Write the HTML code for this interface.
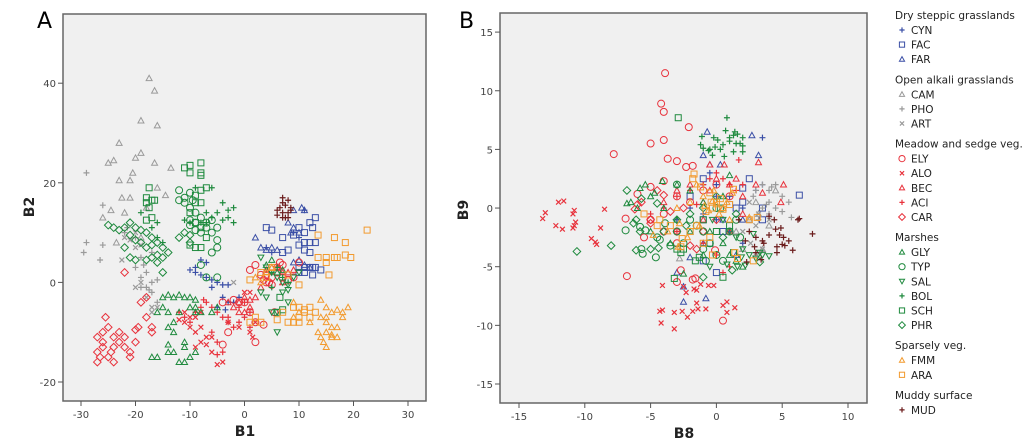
<!DOCTYPE html>
<html><head><meta charset="utf-8"><style>
html,body{margin:0;padding:0;background:#fff;}
svg{display:block;font-family:"DejaVu Sans","Liberation Sans",sans-serif;}
</style></head><body>
<svg id="svg" width="1024" height="445" viewBox="0 0 1024 445" xmlns="http://www.w3.org/2000/svg">
<text x="37" y="28" font-size="22">A</text>
<text x="459" y="28" font-size="22">B</text>
<g id="panelA"></g>
<g id="panelB"></g>
<g id="legend"></g>
</svg>
<script>
const NS="http://www.w3.org/2000/svg";
const seriesNames=["CYN","FAC","FAR","CAM","PHO","ART","ELY","ALO","BEC","ACI","CAR","GLY","TYP","SAL","BOL","SCH","PHR","FMM","ARA","MUD"];
const seriesShapes=["plus","square","tri","tri","plus","x","circle","x","tri","plus","diamond","tri","circle","itri","plus","square","diamond","tri","square","plus"];
const seriesColors=["#3b4fa6","#3b4fa6","#3b4fa6","#9a9a9a","#9a9a9a","#9a9a9a","#e8323c","#e8323c","#e8323c","#e8323c","#e8323c","#1f8a3e","#1f8a3e","#1f8a3e","#1f8a3e","#1f8a3e","#1f8a3e","#f29a2e","#f29a2e","#6b1c1c"];
const legendGroups=["Dry steppic grasslands","Open alkali grasslands","Meadow and sedge veg.","Marshes","Sparsely veg.","Muddy surface"];
const legendGroupSizes=[3,3,5,6,2,1];
const xTicksA=[-30,-20,-10,0,10,20,30];
const yTicksA=[-20,0,20,40];
const xTicksB=[-15,-10,-5,0,5,10];
const yTicksB=[-15,-10,-5,0,5,10,15];
const dataA={
CYN:[[-8,4.5],[-7,4],[-9,3],[-10,2.5],[-8,1.5],[-7,1],[-6,0.5],[-5,0],[-4,-0.5],[-3,-0.5],[-6,-1],[-4,-3],[-3,-4],[-2,-4],[-1,-3],[-5,-5],[-3.5,-5.5],[-9,2],[4,7],[5,6],[9,10],[10,9],[11,14.5]],
FAC:[[4,11],[5,10.5],[7,9],[9,9.5],[10,11],[11,10],[12,12],[13,13],[12.5,11],[10,7.5],[11,8],[12,8],[13,8],[11,6.5],[12,6],[10,3],[11,3],[12,3],[13,3],[12.5,1.5],[14,2.5],[7,6],[8,6.5],[10,2],[11,2],[12.5,3]],
FAR:[[2,9],[3,7],[4,6.5],[5,7],[6,6.5],[9,14.5],[10.5,15],[11,14.5],[8,12],[9,11],[10,10],[8.5,10],[11,3.5],[12,3],[9,4],[10,4.5]],
CAM:[[-17.5,41],[-16.5,38.5],[-19,32.5],[-16,31.5],[-23,28],[-19,26],[-25,24],[-24,24.5],[-20,25],[-16.5,24],[-13.5,23],[-20.5,22],[-23,20.5],[-21,20.5],[-22.5,17],[-21,17],[-16,19],[-14.5,17.5],[-26,13],[-24.5,14.5],[-18,15],[-22,14],[-23.5,8],[-19,9]],
PHO:[[-29,22],[-26,15.5],[-29,8],[-29.5,6],[-26,7.5],[-26.5,4.5],[-21.5,11],[-20,9],[-19,5],[-17,6],[-20,3],[-18,2],[-19,1],[-17,0],[-16,0.5],[-18,-1],[-17,-2],[-16,-4],[-17.5,-1.5],[-19,-1],[-18.5,3.5],[-22,10]],
ART:[[-22,9],[-21,8.5],[-20,7],[-22.5,4.5],[-19,0],[-20,-1],[-17,-5],[-16,-5],[-18,-3],[-17,-6],[-2,0],[-20,10],[-19,7.5]],
ELY:[[1,2.5],[2,3.5],[3,1.5],[3.5,0.5],[4,1.5],[4.5,0],[5,1],[6,2],[6.5,4],[7,3.5],[7,1],[8,0.5],[9,1],[10,4],[5,-0.5],[4,0],[2,-8],[3.5,-8.5],[-3,-10],[-4,-12.5],[2,-12],[-2,-3.5],[-1,-4],[0,-4],[5.5,-6],[1,-6],[-4,-4],[6,3]],
ALO:[[-11,-6],[-10,-7],[-9,-7],[-10,-9],[-8,-9],[-9,-10],[-7,-11],[-8,-12],[-6,-11],[-6,-14],[-5,-16.5],[-4,-16],[-9,-13],[-7,-12.5],[-11,-8],[-12,-7.5],[-8,-6],[1,-10],[1.5,-11],[2,-8],[-3,-8],[-1,-9],[0,-2],[1,-2]],
BEC:[[-1,-4],[0,-3],[1,-5],[2,-3],[-2,-5],[0,-6],[-1,-6],[1,-3.5],[6,3],[7,2],[4,2.5],[8,2],[9,2.5],[5,3],[3,-1],[7,0],[-3,-4]],
ACI:[[-12,-6],[-11,-7],[-10,-8],[-9,-6],[-8,-5],[-7,-4],[-7.5,-3.5],[-6,-5],[-5,-6],[-4,-7],[-3,-8],[-2,-9],[-1,-8],[0,-7],[1,-6],[-6,-10],[-5,-12],[-4,-14],[-5,-14.5],[-3,-7],[1,-9],[-1,-5],[0,-4]],
CAR:[[-27,-16],[-26.5,-15],[-27,-14],[-26,-13],[-27,-11],[-26,-10],[-25,-9],[-25.5,-7],[-24,-11],[-23,-12],[-22,-13],[-21,-14],[-24,-13],[-25,-15],[-24,-16],[-23,-10],[-22,-11],[-20,-9.5],[-20,-12],[-19.5,-9],[-17,-9],[-17,-10],[-18,-7],[-19,-4],[-18,-3],[-22,2],[-26,-12],[-24.5,-14],[-21,-15]],
GLY:[[-17,-15],[-16,-15],[-14,-14],[-13,-14],[-12,-16],[-11,-16],[-10,-15],[-9,-14],[-11,-13],[-11,-12],[-13,-10],[-14,-9],[-16,-6],[-15,-5],[-14,-6],[-13,-3],[-12,-2.5],[-11,-3],[-10,-3],[-9,-3.5],[-9,-6],[-10,-5],[-15,-3],[-14,-2.5],[-12,-6],[-13,-8],[-14,-12.5],[5,4.5],[6,2],[7,2.5],[4,3.5],[-8,-6],[-9,-5],[-5,-5],[-6,-6]],
TYP:[[-12,18.5],[-11,17],[-10,18],[-9.5,16.5],[-11,16],[-12,16.5],[-10,15],[-9,14],[-8,13],[-7,12],[-6,12.5],[-5,11],[-10,11.5],[-9,10.5],[-8,10],[-7,11],[-6,10],[-5,8.5],[-5,7],[-6,6],[-8,3.5],[-7,1],[-5,1],[-10,12.5],[-9,12]],
SAL:[[3,5],[4,3],[5,2],[6,1],[7,0],[8,-0.5],[8,-1.5],[7,-2],[4,-3],[5,-6],[6,-6],[6,-10],[8,-4],[3,-2],[9,1],[10,2]],
BOL:[[-9,19],[-6,19],[-4,16],[-3,14.5],[-2,15],[-5,14],[-6,13],[-7,14],[-8,12],[-11,12.5],[-10,12],[-4,12.5],[-3,13],[-2,12],[-7,12],[-16,12],[-17,11],[-19,14],[-16,9],[-15,8],[5,2],[6,3],[7,1],[8,0],[5,-1]],
SCH:[[-11,23],[-10,23.5],[-10,22],[-8,24],[-8,22],[-8,21.5],[-7,19],[-8,18.5],[-9,17.5],[-9,16],[-8,16],[-10,14],[-9,12],[-8,11],[-7,9],[-8,7],[-9,7],[-10,7.5],[-17.5,19],[-18,17],[-17,16.5],[-18,16],[-17.5,15],[-16.5,16.5],[-18,12.5],[-17,13],[6,-6],[7,-5.5],[6.5,-3]],
PHR:[[-25,11.5],[-24,11],[-23,10.5],[-22,11],[-21,12],[-20,11],[-19,10.5],[-18,10],[-17,9],[-16,8],[-15,7],[-14,6],[-15,5],[-16,4],[-17,5],[-18,7],[-19,8],[-20,8.5],[-22,7],[-21,5],[-20,4.5],[-18,4.5],[-15,2],[-12,9],[-11,10],[-10,9.5],[-10,8],[-17,7.5],[-16,5.5],[-21,9.5]],
FMM:[[14,-3.5],[15,-5],[16,-6],[17,-5.5],[18,-6],[19,-5],[14,-7],[15,-8],[16,-9],[17,-9],[15,-10],[14,-11],[14.5,-12],[16,-11],[15,-13],[17,-11],[16,-10.5],[13.5,-10],[12,-8],[15,-7],[18,-7],[9,-4],[10,-6],[9,-7],[2,1],[3,0],[5,3],[4,2]],
ARA:[[22.5,10.5],[19.5,5],[18.5,8],[18.5,5.5],[16.5,9],[16.5,5],[17,5],[15,5],[15,4],[13.5,9.5],[13.5,5],[15.5,1.5],[10,-0.5],[1,0.5],[3,2],[4,1],[5,3],[8,1.5],[12,-5],[13,-6],[11,-6],[10,-7],[9,-8],[8,-8],[10,-8],[12,-7],[7,-6],[6,-7.5],[2,-7],[3,-8],[1,-8],[9,-5],[10,-5],[11,-5.5]],
MUD:[[7,17],[8,16.5],[7.5,15.5],[6.5,15],[8.5,15],[7,14],[8,14],[6,13.5],[7.5,13],[8.5,14.5],[7,16],[6,14.5],[8,13],[7,13]]
};
const dataB={
CYN:[[-0.5,3],[0,2],[1,1],[2,0],[3,1.5],[3.5,2],[0,-1],[-1,-0.5],[-2,0],[1,-2],[3.5,6],[2,-3],[-3,-1],[0,1],[-1,2]],
FAC:[[2.5,2.5],[2,1.7],[6.3,1.1],[3.5,0],[2,0.5],[1,0.3],[-1,-1],[-0.5,-3],[-1,-4.5],[0,-5.5],[3.5,-1],[1.5,0],[-2,1],[-1,2.5],[0.5,-2]],
FAR:[[-0.7,6.5],[2.7,6.2],[3.2,4.5],[-1,4.5],[0.3,3.7],[-0.5,3.7],[-2.5,-6.7],[-2.5,-8],[-0.8,-7.7],[-2,-4.2],[-1,-3],[1.5,-4],[2,-1],[-3,-5.5],[0.5,-1]],
CAM:[[3,0.5],[4.5,1.5],[-2.8,-4.3],[2,-3.5],[3.5,-3.5],[3,-4],[2.5,-1],[3.2,-0.5],[1.5,-2],[4,-1.5]],
PHO:[[3,1.5],[3.5,2],[4,1.5],[4.5,2],[5,1],[4,0.5],[3.5,0],[4.5,0],[5.5,0.5],[4,-0.5],[3.2,-1],[5,-0.3],[5.7,-0.8],[2.8,1],[4.2,1.8],[3.8,0.3]],
ART:[[3.5,-3.5],[3.2,-0.5],[2.6,-3],[2,-2],[4,-1],[3,-1.5],[2.5,0.5]],
ELY:[[-3.9,11.5],[-4.2,8.9],[-4,8.2],[-2.1,6.9],[-5,5.5],[-4,5.8],[-7.8,4.6],[-3.7,4.2],[-3,4],[-2.3,3.5],[-1.8,3.6],[-4,2.3],[-6,1.2],[-5,1.8],[-3,1],[-2,0.5],[-5,-1],[-6.8,-5.8],[-2.7,-5.3],[-3,-6.3],[-1.6,-6],[-1.8,-6.1],[0.5,-9.6],[-0.1,-3.6],[-5.5,-2.5],[-4,-0.5],[1,1],[0,2],[-1,1.5],[-6.9,-0.9],[-3,-3],[-4,-2]],
ALO:[[-13.2,-0.9],[-13,-0.4],[-12,0.5],[-11.6,0.6],[-12.2,-1.5],[-11.7,-1.8],[-10.9,-0.5],[-10.8,-0.2],[-10.7,-1.2],[-10.8,-1.5],[-10.9,-1.7],[-9.5,-2.6],[-9.2,-2.9],[-9.1,-3.1],[-8.8,-1.7],[-8.5,-0.1],[-4.1,-6.6],[-4.1,-8.7],[-4.3,-8.8],[-4.2,-9.8],[-3.2,-8.9],[-3.2,-10.3],[-2.6,-8.8],[-2.2,-9.3],[-1.8,-8.8],[-1.5,-8.1],[-1.4,-8.6],[-1.2,-6.5],[-0.8,-8.6],[-0.6,-6.6],[-0.2,-6.6],[0.5,-8.3],[0.8,-8],[0.8,-8.9],[1.4,-8.5],[-1.5,-7],[-2.3,-7.2],[-2.5,-6.7],[-1.7,-6.9]],
BEC:[[-0.5,3.7],[0.6,3.7],[3.2,3.9],[5.1,2],[4.9,0.5],[3,2],[1.5,2.5],[2,1],[1,2],[0,2.5],[-0.5,1.5],[-1,0.5],[0.5,0],[-2,2],[-3,1.5],[-4,0.5],[2,-0.5],[1,-2],[-1,-1],[3.5,1.3]],
ACI:[[1.7,4.1],[0,3],[0.5,2.5],[1,2],[1.5,1.5],[2,2],[-1,2],[-2,1.5],[-3,1],[-4,0],[-5,-0.5],[-3,-2],[-1,-3],[0,-4],[1,-5],[0.5,-5.5],[-0.5,2.5],[-1.5,0.3]],
CAR:[[-6,0.3],[-5.7,0.5],[-5,-1],[-5,-1.3],[-4,1.1],[-3,-2],[-2,-3.2],[-1.5,-3.5],[-3.5,-0.3],[-1,-2],[0,-1],[-2.5,0],[-6.2,-0.1],[-4.5,1.5]],
GLY:[[-4.1,2.3],[-5.4,2],[-5.8,1.7],[-6.5,0.5],[-6.8,0.4],[-6,0],[-5,1],[-3,2],[-2,1.5],[-1,0.5],[-0.5,-2],[0.5,-3],[1,-4],[1.5,-4.5],[2,-5],[-1,-4],[-2,-2],[-3,-1],[0.5,1],[1,2.8],[-4,0],[-5,-2],[-3.5,-3],[-2.5,-5.6],[-4.7,1.3]],
TYP:[[-6.9,-1.9],[-5.8,-1.6],[-5.4,-1.9],[-5.7,-3.5],[-5.6,-3.9],[-4.6,-4.2],[-4.3,-2.7],[-3.5,-3.2],[-3,-2],[-2,-1],[-1,-3.5],[-0.5,-3],[0,-4],[1,-2],[1.5,-1],[0.5,-4.5],[-2.5,-3],[-4.5,-2.5],[-3,2],[-1.5,-1.5],[0,0],[-1,-2],[1.8,-2.5],[-0.8,-4.5],[-3.9,-1.3]],
SAL:[[-0.3,-1],[0.5,-1],[1,-2],[1.5,-2.5],[2,-3.5],[2.5,-4],[3,-4.3],[3.5,-4],[4,-4.1],[2.2,-4.9],[1.6,-5],[0.8,-4.8],[-0.5,-5],[2.8,-2.2],[3.3,-3.8],[1.9,-4.2]],
BOL:[[0.8,7.7],[1.4,6.5],[0.7,6.6],[1,6],[1.3,6.2],[2,6],[1.5,5.5],[0.5,5.4],[0.1,5.8],[-0.1,5.2],[-0.5,5],[-1,5.1],[-1.2,5.4],[-1.1,6.1],[-0.6,4.9],[2,5.3],[2,4.8],[1.8,5.5],[1.3,4.8],[0.6,4.4],[-0.3,4.5],[0.3,5],[1,5.7],[-0.2,6],[1.6,6.3]],
SCH:[[-2.9,7.7],[-1.6,-4.5],[-1.3,-4.2],[-2.5,-3.5],[-3,-3.5],[0.5,-5.9],[-0.5,-3],[0,-2],[1,-1.5],[-1,-1],[-2,-2],[0.3,0],[-2.7,-3.8],[1.3,-3.8],[-3.2,-6]],
PHR:[[-6.8,1.5],[-5.7,0.8],[-6.3,-1.3],[-6.1,-1],[-5.8,-2],[-6.1,-3.6],[-5,-3.5],[-4.4,-3.4],[-10.6,-3.7],[-8,-3.2],[-4,-2],[-3,-1],[-2,-0.5],[-1,0],[0,1],[1.5,-0.5],[-1,-5.9],[1.2,-5.3],[3.3,-4.6],[-2.3,-1.5],[-4.5,0.4],[0.5,-2.5]],
FMM:[[-1.5,2],[-2.8,-1.3],[-4.8,-2.3],[-3,0],[-2,0.5],[-1,1],[0,0.3],[0.5,0],[1,-1],[-0.3,0.6],[-0.6,-0.2],[0.2,-0.5],[-1.3,-1.5],[-2.2,-2.5],[-2.9,-3.3],[-3.7,-2],[1.2,1.3],[0.8,0.5],[-0.9,0.2],[-0.2,1.5],[2.5,-0.8]],
ARA:[[-1.7,2.9],[-1.8,2.5],[-1.2,1.8],[-0.5,1.3],[0,0.5],[0.5,-0.1],[1.3,1.6],[1,0.3],[-0.3,0],[-0.8,-0.3],[-0.4,0.5],[-1.5,-1.5],[-2,-2],[-2.6,-2.6],[-2.7,-3.3],[-1,-3],[-0.5,-2.5],[-0.3,-4],[1.4,-3.8],[1.6,-4.3],[2.5,-1],[3.1,-0.8],[2.8,-4.5],[-4.3,-1],[-3.5,-1.5],[-5.5,-0.5],[-4.5,-1.5],[0.3,0.8]],
MUD:[[1.7,-1],[2.5,-2],[3,-2.5],[3.5,-2.8],[4,-2.3],[4.5,-1.8],[4.4,-1],[4,-0.7],[4.8,-2.3],[5.1,-2.5],[5,-3.1],[4.6,-3.3],[4.6,-3.8],[5.5,-2.8],[5.2,-3.2],[6.2,-1],[6.3,-0.9],[7.3,-2.2],[5.8,-3.6],[4.9,-1.7],[3,-3.8],[3.4,-4.4],[2.3,-4.6],[2.9,-3.3],[3.6,-3],[2.2,-2.8]]
};

function mk(tag,attrs,parent){const e=document.createElementNS(NS,tag);for(const k in attrs)e.setAttribute(k,attrs[k]);parent.appendChild(e);return e;}
function marker(shape,x,y,col,parent,s){
  s=s||3;let e;
  if(shape==="plus"){e=mk("path",{d:`M${x-s},${y}H${x+s}M${x},${y-s}V${y+s}`,stroke:col,"stroke-width":1.2,fill:"none"},parent);}
  else if(shape==="x"){const t=s*0.8;e=mk("path",{d:`M${x-t},${y-t}L${x+t},${y+t}M${x-t},${y+t}L${x+t},${y-t}`,stroke:col,"stroke-width":1.2,fill:"none"},parent);}
  else if(shape==="square"){e=mk("rect",{x:x-s,y:y-s,width:2*s,height:2*s,stroke:col,"stroke-width":1,fill:"none"},parent);}
  else if(shape==="circle"){e=mk("circle",{cx:x,cy:y,r:s+0.5,stroke:col,"stroke-width":1,fill:"none"},parent);}
  else if(shape==="diamond"){e=mk("path",{d:`M${x},${y-s-0.8}L${x+s+0.8},${y}L${x},${y+s+0.8}L${x-s-0.8},${y}Z`,stroke:col,"stroke-width":1,fill:"none"},parent);}
  else if(shape==="tri"){e=mk("path",{d:`M${x},${y-s}L${x+s},${y+s*0.8}L${x-s},${y+s*0.8}Z`,stroke:col,"stroke-width":1,fill:"none"},parent);}
  else {e=mk("path",{d:`M${x},${y+s}L${x+s},${y-s*0.8}L${x-s},${y-s*0.8}Z`,stroke:col,"stroke-width":1,fill:"none"},parent);}
  return e;
}
function panel(g,cfg,data,xt,yt){
  const sx=v=>cfg.x0px+(v-cfg.x0)*cfg.kx, sy=v=>cfg.y0px-(v-cfg.y0)*cfg.ky;
  const bg=mk("rect",{x:cfg.l,y:cfg.t,width:cfg.r-cfg.l,height:cfg.b-cfg.t,fill:"#f0f0f0",stroke:"#666","stroke-width":1.5},g);
  
  
  xt.forEach(v=>{const x=sx(v);mk("line",{x1:x,x2:x,y1:cfg.b,y2:cfg.b+5,stroke:"#555"},g);
    const t=mk("text",{x:x,y:cfg.b+17,"font-size":10,fill:"#444","text-anchor":"middle"},g);t.textContent=v;
    
    });
  yt.forEach(v=>{const y=sy(v);mk("line",{x1:cfg.l-5,x2:cfg.l,y1:y,y2:y,stroke:"#555"},g);
    const t=mk("text",{x:cfg.l-7,y:y+4,"font-size":10,fill:"#444","text-anchor":"end"},g);t.textContent=v;
    
    });
  seriesNames.forEach((n,i)=>{const sg=mk("g",{},g);
    
    
    data[n].forEach(p=>{const m=marker(seriesShapes[i],sx(p[0]),sy(p[1]),seriesColors[i],sg);
      
      });});
  const xl=mk("text",{x:cfg.xlx,y:cfg.xly,"font-size":14,"font-weight":"bold","text-anchor":"middle",fill:"#222"},g);xl.textContent=cfg.xlab;
  
  
  const yl=mk("text",{x:0,y:0,"font-size":14,"font-weight":"bold","text-anchor":"middle",fill:"#222",transform:`translate(${cfg.ylx},${cfg.yly}) rotate(-90)`},g);yl.textContent=cfg.ylab;
  
  
}
panel(document.getElementById("panelA"),{l:63,r:426,t:14,b:401,x0:-30,x0px:81,kx:5.45,y0:-20,y0px:382,ky:4.98,xlab:"B1",xlx:245,xly:436,ylab:"B2",ylx:34,yly:207},dataA,xTicksA,yTicksA);
panel(document.getElementById("panelB"),{l:500,r:867,t:13,b:403,x0:-15,x0px:519,kx:13.16,y0:-15,y0px:384,ky:11.73,xlab:"B8",xlx:684,xly:438,ylab:"B9",ylx:468,yly:210},dataB,xTicksB,yTicksB);
(function(){
  const g=document.getElementById("legend");let y=19,idx=0;
  legendGroups.forEach((h,gi)=>{
    const t=mk("text",{x:895,y:y,"font-size":10.5,fill:"#222"},g);t.textContent=h;
    
    
    y+=15;
    for(let k=0;k<legendGroupSizes[gi];k++){
      const i=idx++;
      const m=marker(seriesShapes[i],902,y-4,seriesColors[i],g,2.6);
      
      
      const lt=mk("text",{x:911,y:y,"font-size":10.5,fill:"#222"},g);lt.textContent=seriesNames[i];
      
      
      y+=14.6;
    }
    y+=5.5;
  });
})();
</script>
</body></html>
